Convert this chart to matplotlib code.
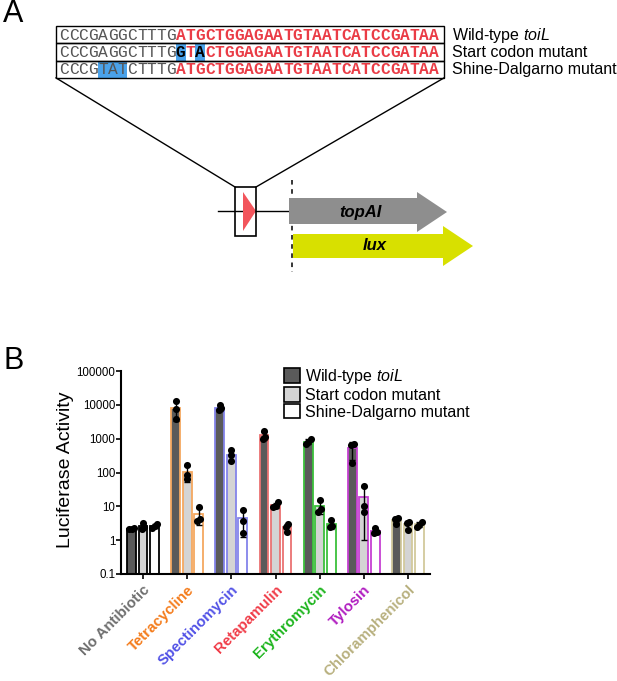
import numpy as np
import matplotlib
matplotlib.use('Agg')
import matplotlib.pyplot as plt
from matplotlib.patches import Rectangle, Polygon, Patch

plt.rcParams['font.family'] = ['Liberation Sans', 'DejaVu Sans']
plt.rcParams['mathtext.fontset'] = 'custom'
plt.rcParams['mathtext.rm'] = 'Liberation Sans'
plt.rcParams['mathtext.it'] = 'Liberation Sans:italic'
plt.rcParams['mathtext.bf'] = 'Liberation Sans:bold'

# ---- panel A: sequences ----
upstream = ['CCCGAGGCTTTG', 'CCCGAGGCTTTG', 'CCCGTATCTTTG']
coding = ['ATGCTGGAGAATGTAATCATCCGATAA',
          'GTACTGGAGAATGTAATCATCCGATAA',
          'ATGCTGGAGAATGTAATCATCCGATAA']
mutated = [[], [12, 14], [4, 5, 6]]
construct_names = ['Wild-type $\\mathit{toiL}$', 'Start codon mutant', 'Shine-Dalgarno mutant']
genes = ['topAI', 'lux']

# ---- panel B: luciferase activity (3 replicates each) ----
antibiotics = ['No Antibiotic', 'Tetracycline', 'Spectinomycin', 'Retapamulin',
               'Erythromycin', 'Tylosin', 'Chloramphenicol']
label_colors = ['#6e6e6e', '#f47c1c', '#5252e6', '#f03c48', '#1cb41c', '#b01cc0', '#b8b07e']
edge_colors = ['#000000', '#f5a860', '#8484ea', '#ea7272', '#3cc03c', '#c640d2', '#d2c99c']
wt_points = [[2.1, 2.2, 2.3], [13000, 7400, 3700], [10000, 7800, 7000], [1650, 1150, 1000],
             [950, 820, 700], [700, 650, 190], [4.5, 4.2, 3.0]]
sc_points = [[2.2, 2.5, 3.2], [165, 85, 65], [470, 330, 220], [13, 10.5, 9.5],
             [15, 8.5, 7], [39, 10, 7], [3.5, 3.3, 2.0]]
sd_points = [[2.3, 2.6, 3.1], [9.3, 4.3, 3.8], [7.9, 3.8, 1.6], [3.0, 2.5, 1.7],
             [4.0, 2.7, 2.4], [2.3, 1.8, 1.6], [3.5, 2.9, 2.5]]
strain_fills = ['#5a5a5a', '#d4d4d4', '#ffffff']

W, H = 617, 681
fig = plt.figure(figsize=(W / 100, H / 100), dpi=100)

# overlay in pixel coordinates for the schematic
ov = fig.add_axes([0, 0, 1, 1], zorder=0)
ov.set_xlim(0, W)
ov.set_ylim(H, 0)
ov.axis('off')

ov.text(3, -1, 'A', fontsize=22, va='top', ha='left')
ov.text(3, 346, 'B', fontsize=22, va='top', ha='left')

box_l, box_r, box_t, row_h = 56, 444, 26, 17.3
x0, cw = 59, 9.74
for r in range(3):
    top = box_t + r * row_h
    seq = upstream[r] + coding[r]
    for i, ch in enumerate(seq):
        if i in mutated[r]:
            ov.add_patch(Rectangle((x0 + i * cw, top), cw, row_h, color='#4aa2ea', lw=0, zorder=1))
        if i >= len(upstream[r]):
            col = 'black' if i in mutated[r] else '#ea3c46'
            ov.text(x0 + (i + 0.5) * cw, top + row_h / 2 + 0.5, ch, family='Liberation Mono',
                    fontsize=11.7, weight='bold', color=col, ha='center', va='center', zorder=2)
        else:
            ov.text(x0 + (i + 0.5) * cw, top + row_h / 2 + 0.5, ch, family='Liberation Mono',
                    fontsize=11.7, color='#555555', ha='center', va='center', zorder=2)
    ov.text(452, top + row_h / 2 + 0.5, construct_names[r], fontsize=11.5, ha='left', va='center')
    ov.add_patch(Rectangle((box_l, top), box_r - box_l, row_h, fill=False, ec='black', lw=1, zorder=3))

# zoom lines and promoter box
sb_l, sb_r, sb_t, sb_b = 235, 256, 187, 236
box_b = box_t + 3 * row_h
ov.plot([box_l, sb_l], [box_b, sb_t], color='black', lw=1)
ov.plot([box_r, sb_r], [box_b, sb_t], color='black', lw=1)
ov.plot([218, 290], [211, 211], color='black', lw=1)
ov.add_patch(Polygon([[243, 192], [243, 231], [256, 211]], color='#f2555c', lw=0, zorder=2))
ov.add_patch(Rectangle((sb_l, sb_t), sb_r - sb_l, sb_b - sb_t, fill=False, ec='black', lw=1.2, zorder=3))
ov.plot([292, 292], [180, 272], color='black', lw=1.1, ls=(0, (3, 3)))

# gene arrows
ov.add_patch(Polygon([[289, 198], [417, 198], [417, 192], [447, 212], [417, 232], [417, 224], [289, 224]],
                     color='#8e8e8e', lw=0, zorder=2))
ov.text(360, 212, genes[0], fontsize=12, weight='bold', style='italic', ha='center', va='center', zorder=3)
ov.add_patch(Polygon([[293, 234], [443, 234], [443, 226], [473, 246], [443, 266], [443, 258], [293, 258]],
                     color='#d8e000', lw=0, zorder=2))
ov.text(375, 246, genes[1], fontsize=12, weight='bold', style='italic', ha='center', va='center', zorder=3)

# ---- panel B ----
ax_l, ax_r, ax_t, ax_b = 121, 430, 371, 574
ax = fig.add_axes([ax_l / W, 1 - ax_b / H, (ax_r - ax_l) / W, (ax_b - ax_t) / H], zorder=2)
ax.set_yscale('log')
ymin, ymax = 0.1, 100000
ax.set_ylim(ymin, ymax)
ax.set_xlim(-0.5, len(antibiotics) - 0.5)

x = np.arange(len(antibiotics))
offsets = [-0.26, 0.0, 0.26]
width = 0.2


def spread(vals):
    # horizontal offsets for overlapping dots
    lv = np.log10(vals)
    off = np.zeros(len(vals))
    order = np.argsort(lv)
    clusters = [[order[0]]]
    for k in order[1:]:
        if lv[k] - lv[clusters[-1][-1]] < 0.1:
            clusters[-1].append(k)
        else:
            clusters.append([k])
    for c in clusters:
        n = len(c)
        for m, k in enumerate(c):
            off[k] = (m - (n - 1) / 2) * 0.06
    return off


for j, group in enumerate([wt_points, sc_points, sd_points]):
    for i, pts in enumerate(group):
        pts = np.array(pts, dtype=float)
        mean, sd = pts.mean(), pts.std(ddof=1)
        xi = x[i] + offsets[j]
        ax.bar(xi, mean - ymin, width, bottom=ymin, color=strain_fills[j], edgecolor=edge_colors[i],
               linewidth=1.3, zorder=2)
        low = min(sd, mean - 0.8)
        ax.errorbar(xi, mean, yerr=[[low], [sd]], color='black', lw=1, capsize=2.5, capthick=1, zorder=3)
        ax.scatter(xi + spread(pts), pts, s=26, color='black', zorder=4, lw=0)

ax.set_xticks(x)
ax.set_xticklabels(antibiotics, rotation=45, ha='right', rotation_mode='anchor', fontsize=10.8,
                   weight='bold')
for lab, c in zip(ax.get_xticklabels(), label_colors):
    lab.set_color(c)
ax.set_yticks([0.1, 1, 10, 100, 1000, 10000, 100000])
ax.set_yticklabels(['0.1', '1', '10', '100', '1000', '10000', '100000'], fontsize=8.3)
ax.yaxis.set_minor_locator(matplotlib.ticker.NullLocator())
ax.tick_params(axis='both', length=3.5, width=1.2)
ax.tick_params(axis='y', pad=0.5)
ax.tick_params(axis='x', pad=3)
for s in ['top', 'right']:
    ax.spines[s].set_visible(False)
for s in ['left', 'bottom']:
    ax.spines[s].set_linewidth(1.5)
ax.set_facecolor('none')

ov.text(65, 470, 'Luciferase Activity', fontsize=14, rotation=90, ha='center', va='center')

handles = [Patch(facecolor=f, edgecolor='black', lw=1.2) for f in strain_fills]
ax.legend(handles, construct_names, loc='upper left', bbox_to_anchor=(284 / W, 1 - 367 / H),
          bbox_transform=fig.transFigure, frameon=False, fontsize=11.5, handlelength=1.0,
          handleheight=1.0, handletextpad=0.3, labelspacing=0.08, borderpad=0, borderaxespad=0)

fig.savefig('out.png', dpi=100)
